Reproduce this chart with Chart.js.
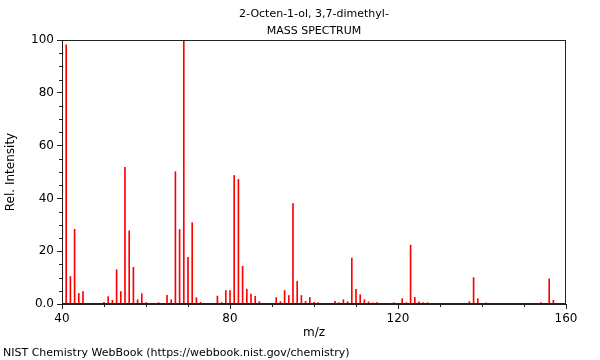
<!DOCTYPE html>
<html>
<head>
<meta charset="utf-8">
<script src="https://cdn.jsdelivr.net/npm/chart.js@4"></script>
<style>
  body { margin: 0; background: #fff; }
  #wrap { position: relative; width: 600px; height: 360px; }
  .txt {
    position: absolute;
    font: 11px 'DejaVu Sans', sans-serif; color: #000; line-height: 13px;
  }
  #title { left: 62px; width: 504px; top: 5px; text-align: center; line-height: 17px; }
  #foot { left: 3px; top: 346px; }
</style>
</head>
<body>
<div id="wrap">
  <canvas id="c" width="600" height="360"></canvas>
  <div id="title" class="txt"></div>
  <div id="foot" class="txt">NIST Chemistry WebBook (https://webbook.nist.gov/chemistry)</div>
</div>
<script>
const TITLE = ['2-Octen-1-ol, 3,7-dimethyl-', 'MASS SPECTRUM'];
const INK = '#222';
const PEAK = '#ff0000';

// m/z and relative intensity
const mz = [41, 42, 43, 44, 45, 50, 51, 52, 53, 54, 55, 56, 57, 58, 59, 60,
  63, 65, 66, 67, 68, 69, 70, 71, 72, 73, 77, 78, 79, 80, 81, 82, 83, 84, 85, 86, 87,
  91, 92, 93, 94, 95, 96, 97, 98, 99, 100, 101, 105, 106, 107, 108, 109, 110, 111,
  112, 113, 114, 115, 117, 119, 121, 122, 123, 124, 125, 126, 127, 137, 138, 139,
  141, 154, 156, 157];
const intensity = [98.2, 10.4, 28.3, 4.0, 4.7, 0.6, 2.8, 1.4, 13.0, 4.7, 51.8, 27.7, 13.9, 1.6, 3.9, 0.5,
  0.5, 3.3, 1.6, 50.1, 28.2, 100, 17.7, 30.8, 2.4, 0.6, 3.0, 0.5, 5.1, 5.1, 48.7, 47.2, 14.3, 5.6, 3.8, 2.9, 0.9,
  2.4, 0.9, 5.1, 3.2, 38.0, 8.6, 3.2, 1.0, 2.5, 0.6, 0.5, 1.0, 0.5, 1.6, 0.9, 17.4, 5.6, 3.5,
  1.6, 0.8, 0.4, 0.5, 0.3, 0.5, 2.0, 0.5, 22.3, 2.5, 0.8, 0.5, 0.5, 0.9, 10.0, 2.0,
  0.4, 0.5, 9.5, 1.4];

const xMajor = [40, 80, 120, 160];
const xMinor = [50, 60, 70, 90, 100, 110, 130, 140, 150];
const yMajor = [0, 20, 40, 60, 80, 100];
const yMinor = [5, 10, 15, 25, 30, 35, 45, 50, 55, 65, 70, 75, 85, 90, 95];

document.getElementById('title').innerHTML = TITLE.map((t) => `<div>${t}</div>`).join('');

Chart.defaults.font.family = "'DejaVu Sans', sans-serif";
Chart.defaults.color = '#000';

// box round the plot plus the short minor ticks
const frame = {
  id: 'frame',
  afterDraw(chart) {
    const { ctx, chartArea: a, scales } = chart;
    ctx.save();
    ctx.strokeStyle = INK;
    ctx.lineWidth = 1;
    ctx.strokeRect(Math.round(a.left) + 0.5, Math.round(a.top) + 0.5,
      Math.round(a.right - a.left) - 1, Math.round(a.bottom - a.top) - 1);
    ctx.beginPath();
    xMinor.forEach((v) => {
      const px = Math.round(scales.x.getPixelForValue(v)) + 0.5;
      ctx.moveTo(px, a.bottom);
      ctx.lineTo(px, a.bottom + 3);
    });
    yMinor.forEach((v) => {
      const py = Math.round(scales.y.getPixelForValue(v)) + 0.5;
      ctx.moveTo(a.left, py);
      ctx.lineTo(a.left - 3, py);
    });
    ctx.stroke();
    ctx.restore();
  },
};

new Chart(document.getElementById('c'), {
  type: 'bar',
  data: {
    datasets: [{
      data: mz.map((m, i) => ({ x: m, y: intensity[i] })),
      backgroundColor: PEAK,
      borderWidth: 0,
      barThickness: 1,
    }],
  },
  options: {
    responsive: false,
    animation: false,
    layout: { padding: { top: 40, right: 34, bottom: 0, left: 0 } },
    plugins: {
      legend: { display: false },
      tooltip: { enabled: false },
      title: { display: false },
    },
    scales: {
      x: {
        type: 'linear',
        min: 40,
        max: 160,
        offset: false,
        afterBuildTicks: (s) => { s.ticks = xMajor.map((v) => ({ value: v })); },
        afterFit: (s) => { s.height = 56; },
        ticks: { font: { size: 12 }, padding: 3, maxRotation: 0 },
        grid: { offset: false, drawOnChartArea: false, tickLength: 5, tickColor: INK },
        border: { color: INK },
        title: { display: true, text: 'm/z', font: { size: 12 }, padding: { top: 0, bottom: 20 } },
      },
      y: {
        min: 0,
        max: 100,
        afterBuildTicks: (s) => { s.ticks = yMajor.map((v) => ({ value: v })); },
        afterFit: (s) => { s.width = 62; },
        ticks: { font: { size: 12 }, padding: 3, callback: (v) => (v === 0 ? '0.0' : v) },
        grid: { drawOnChartArea: false, tickLength: 5, tickColor: INK },
        border: { color: INK },
        title: { display: true, text: 'Rel. Intensity', font: { size: 12 }, padding: { top: 4 } },
      },
    },
  },
  plugins: [frame],
});
</script>
</body>
</html>
